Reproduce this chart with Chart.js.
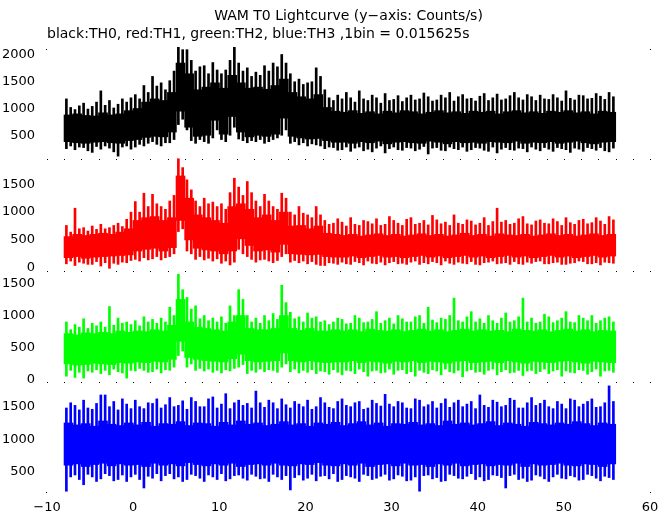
<!DOCTYPE html>
<html>
<head>
<meta charset="utf-8">
<title>WAM T0 Lightcurve</title>
<script src="https://cdn.jsdelivr.net/npm/chart.js@4.4.1/dist/chart.umd.min.js"></script>
<style>
  body { margin: 0; background: #fff; }
  canvas { position: absolute; left: 0; }
</style>
</head>
<body>
<canvas id="p0" width="672" height="168" style="top:0px"></canvas>
<canvas id="p1" width="672" height="122" style="top:158px"></canvas>
<canvas id="p2" width="672" height="121" style="top:270px"></canvas>
<canvas id="p3" width="672" height="134" style="top:381px"></canvas>
<script>
// lightcurves: core band per 1 s, spike extremes per 0.5 s, from t = -8 s to 56 s
const binStart = -8
const xTicks = [-10, 0, 10, 20, 30, 40, 50, 60]
const th0Ticks = [500, 1000, 1500, 2000]
const th1Ticks = [0, 500, 1000, 1500]
const th2Ticks = [0, 500, 1000, 1500]
const th3Ticks = [500, 1000, 1500]

// TH0 (black)
const th0Top = [880,900,870,860,920,880,900,960, 1000,1120,1180,1150,1300,1850,1650,1350, 1400,1480,1380,1620,1480,1380,1400,1360, 1430,1550,1300,1220,1180,1260,1020,950,
  930,960,910,940,900,950,920,960, 940,900,930,960,920,940,910,950, 930,950,900,940,960,920,940,910, 950,930,960,920,940,900,950,930]
const th0Bot = [380,360,350,370,380,360,350,400, 420,460,480,470,560,950,650,480, 500,780,520,850,560,470,500,480, 520,820,480,450,430,440,400,370,
  370,350,380,360,390,340,370,380, 360,350,390,370,340,380,360,370, 350,380,370,360,390,350,370,360, 380,350,370,390,360,340,370,380]
const th0Hi = [1180,1020, 980,1050, 1100,990, 1040,1120, 1330,1060, 1150,1010, 1080,1180, 1120,1200,
  1260,1180, 1430,1300, 1600,1420, 1480,1350, 1520,1700, 2150,2100, 2100,1900, 1700,1780,
  1800,1650, 1860,1720, 1650,1720, 1900,2150, 1850,1700, 1760,1600, 1680,1620, 1800,1700,
  1850,1780, 2010,1850, 1650,1500, 1550,1450, 1480,1500, 1760,1600, 1350,1200, 1150,1250,
  1180,1300, 1200,1120, 1330,1180, 1150,1250, 1200,1100, 1280,1150, 1170,1240, 1130,1200,
  1250,1160, 1180,1290, 1220,1140, 1160,1250, 1200,1300, 1140,1220, 1260,1180, 1190,1140,
  1230,1280, 1150,1200, 1270,1160, 1180,1240, 1300,1200, 1160,1260, 1220,1150, 1250,1180,
  1170,1260, 1200,1140, 1330,1190, 1160,1250, 1240,1180, 1190,1280, 1230,1170, 1300,1220]
const th0Lo = [250,300, 230,280, 270,210, 180,290, 240,300, 260,190, 110,280, 300,240,
  280,330, 300,350, 380,330, 300,360, 360,420, 700,800, 600,400, 350,420,
  380,350, 450,600, 420,380, 500,650, 430,400, 360,400, 380,420, 350,380,
  420,450, 500,600, 350,380, 320,360, 300,340, 320,300, 250,280, 270,220,
  230,280, 200,260, 280,210, 240,190, 260,300, 170,250, 280,230, 220,270,
  260,210, 240,290, 150,260, 270,220, 210,280, 250,230, 280,200, 230,270,
  260,220, 200,280, 170,240, 270,230, 220,260, 250,190, 280,240, 210,270,
  240,200, 270,250, 230,180, 260,240, 200,270, 250,220, 270,210, 190,260]

// TH1 (red)
const th1Top = [560,600,580,600,620,600,640,700, 850,900,920,850,900,1650,1250,950, 900,850,800,1100,1150,1050,900,950, 850,1000,750,760,700,750,620,600,
  580,600,570,590,610,580,600,570, 590,610,580,600,570,590,620,580, 600,570,610,590,580,600,570,590, 610,580,600,570,590,610,580,600]
const th1Bot = [180,200,170,190,200,210,220,230, 300,330,350,300,360,850,500,350, 320,300,250,300,520,400,300,320, 280,420,250,240,230,240,200,190,
  190,210,180,200,220,190,200,180, 200,220,190,210,180,200,220,190, 210,180,200,220,190,210,180,200, 220,190,210,180,200,220,190,210]
const th1Hi = [760,640, 1070,700, 720,660, 750,690, 780,700, 720,760, 800,740, 870,1000,
  1190,1000, 1340,1100, 1320,1150, 1100,1050, 1200,1300, 1960,1800, 1580,1400, 1200,1100,
  1250,1150, 1180,1100, 1150,1050, 1350,1610, 1450,1300, 1550,1350, 1200,1100, 1320,1200,
  1100,1050, 1340,1250, 1000,950, 1100,980, 950,900, 1100,950, 850,780, 800,880,
  820,750, 900,780, 760,850, 830,790, 880,760, 780,920, 850,800, 760,870,
  900,780, 800,850, 770,940, 860,790, 820,760, 950,800, 780,860, 840,770,
  800,900, 760,830, 1070,820, 850,780, 800,880, 920,790, 770,840, 860,800,
  790,880, 830,760, 900,810, 780,850, 870,790, 810,900, 840,780, 920,860]
const th1Lo = [70,120, 40,100, 80,60, 60,110, 30,90, -10,80, 60,100, 90,130,
  150,120, 180,140, 160,200, 140,180, 200,250, 650,700, 300,250, 150,200,
  140,170, 120,160, 80,120, 50,100, 330,250, 200,150, 100,140, 150,120,
  90,130, 200,250, 100,130, 90,120, 70,110, 60,40, 40,90, 80,60,
  100,70, 60,110, 90,50, 120,80, 70,100, 50,90, 110,70, 80,60,
  100,120, 60,90, 70,110, 90,50, 120,80, 60,100, 80,70, 110,60,
  50,90, 100,120, 70,80, 90,60, 110,70, 60,100, 80,110, 120,70,
  70,90, 100,60, 60,80, 90,120, 110,70, 70,90, 50,100, 90,80]

// TH2 (green)
const th2Top = [720,700,730,720,740,720,760,740, 760,750,780,760,850,1250,900,820, 800,780,760,900,1000,800,780,780, 800,1000,800,770,800,760,760,780,
  760,780,750,790,770,760,780,750, 770,790,760,780,750,770,790,760, 780,760,770,750,790,770,760,780, 750,770,790,760,780,750,770,760]
const th2Bot = [250,230,240,260,250,240,270,260, 280,270,290,280,320,600,350,320, 300,290,280,330,400,300,280,290, 300,420,300,280,300,280,270,280,
  280,300,270,290,280,260,290,280, 300,270,290,280,260,290,300,270, 280,290,270,300,280,260,290,280, 270,290,300,280,260,290,280,270]
const th2Hi = [900,780, 860,820, 950,800, 880,840, 900,820, 1140,850, 960,880, 900,860,
  920,840, 980,900, 940,880, 960,900, 1130,1000, 1640,1400, 1280,1100, 1150,950,
  1000,920, 960,900, 980,880, 1150,1000, 1400,1250, 1000,900, 960,880, 1000,920,
  1030,940, 1470,1200, 1050,950, 980,900, 1040,960, 980,900, 920,860, 900,960,
  940,870, 880,1000, 960,890, 900,940, 1060,880, 920,960, 870,1000, 950,900,
  900,980, 1000,880, 1130,930, 890,960, 940,1000, 1270,920, 900,980, 1060,900,
  950,880, 1000,920, 880,960, 1040,900, 920,980, 1270,900, 960,880, 900,1020,
  980,890, 920,960, 1060,900, 890,1000, 960,920, 1000,880, 920,960, 980,900]
const th2Lo = [60,150, 40,120, 30,140, 120,160, 100,150, 80,170, 130,110, 30,150,
  140,180, 150,120, 130,170, 110,160, 150,200, 380,450, 200,250, 150,180,
  140,170, 120,150, 110,160, 140,180, 200,240, 100,150, 120,170, 130,160,
  150,120, 200,250, 130,170, 110,150, 120,160, 100,140, 130,90, 160,120,
  80,150, 140,100, 170,130, 60,140, 150,110, 120,170, 90,150, 160,100,
  130,60, 150,120, 100,160, 140,80, 170,130, 110,150, 50,140, 160,120,
  130,90, 150,170, 80,130, 160,110, 120,150, 70,140, 150,100, 130,170,
  100,140, 160,60, 140,120, 110,160, 150,90, 130,170, 60,140, 150,120]

// TH3 (blue)
const th3Top = [1250,1220,1240,1200,1280,1230,1210,1250, 1220,1260,1200,1240,1230,1270,1210,1250, 1240,1200,1260,1220,1280,1230,1250,1210, 1230,1270,1220,1240,1200,1250,1230,1260,
  1210,1240,1270,1220,1250,1200,1240,1230, 1260,1220,1240,1210,1280,1230,1250,1220, 1240,1270,1210,1250,1230,1200,1260,1240, 1220,1250,1230,1270,1240,1210,1250,1230]
const th3Bot = [600,620,580,610,630,590,620,600, 610,580,630,600,620,590,640,610, 590,620,600,630,580,610,620,600, 630,600,590,620,610,640,600,590,
  620,600,630,580,610,620,590,630, 600,610,580,620,600,630,590,610, 620,590,610,600,630,580,620,600, 610,630,600,590,620,610,580,620]
const th3Hi = [1480,1560, 1520,1450, 1600,1480, 1460,1550, 1680,1680, 1500,1580, 1450,1620, 1540,1470,
  1600,1500, 1470,1560, 1550,1620, 1480,1530, 1640,1500, 1520,1590, 1460,1640, 1580,1500,
  1500,1620, 1650,1480, 1540,1700, 1470,1560, 1600,1520, 1550,1480, 1740,1560, 1490,1600,
  1560,1470, 1620,1530, 1480,1580, 1540,1500, 1600,1460, 1500,1640, 1560,1490, 1470,1580,
  1620,1520, 1500,1560, 1580,1460, 1480,1600, 1550,1510, 1690,1540, 1500,1580, 1560,1480,
  1470,1620, 1600,1500, 1530,1580, 1480,1550, 1620,1490, 1560,1600, 1500,1540, 1580,1470,
  1680,1520, 1490,1600, 1570,1500, 1520,1630, 1600,1480, 1480,1560, 1640,1520, 1550,1600,
  1500,1470, 1580,1540, 1470,1620, 1600,1500, 1540,1580, 1620,1490, 1500,1560, 1820,1580]
const th3Lo = [200,420, 450,380, 300,460, 420,350, 390,470, 440,360, 380,450, 350,420,
  460,380, 250,430, 400,470, 360,440, 470,390, 420,350, 380,460, 440,400,
  350,450, 420,380, 470,360, 390,440, 450,400, 370,460, 430,390, 400,350,
  460,420, 380,440, 220,410, 450,370, 400,460, 360,430, 440,390, 470,350,
  380,440, 420,400, 350,460, 440,380, 400,430, 460,370, 390,450, 430,360,
  370,420, 200,440, 450,390, 410,350, 360,460, 440,400, 390,430, 470,380,
  420,360, 380,450, 440,410, 250,440, 460,380, 400,350, 370,450, 430,390,
  350,420, 460,400, 390,440, 420,370, 380,460, 440,400, 360,430, 410,380]

const panels = [
  {id: 'p0', color: '#000000', top: th0Top, bot: th0Bot, hi: th0Hi, lo: th0Lo, ticks: th0Ticks, yMin: 75, yMax: 2150},
  {id: 'p1', color: '#ff0000', top: th1Top, bot: th1Bot, hi: th1Hi, lo: th1Lo, ticks: th1Ticks, yMin: -41, yMax: 1973},
  {id: 'p2', color: '#00ff00', top: th2Top, bot: th2Bot, hi: th2Hi, lo: th2Lo, ticks: th2Ticks, yMin: -15, yMax: 1706},
  {id: 'p3', color: '#0000ff', top: th3Top, bot: th3Bot, hi: th3Hi, lo: th3Lo, ticks: th3Ticks, yMin: 188, yMax: 1895}
]

Chart.defaults.font.family = '"DejaVu Sans", Verdana, sans-serif'
Chart.defaults.font.size = 13
Chart.defaults.color = '#000'

const minus = v => v < 0 ? '\u2212' + Math.abs(v) : String(v)

// little tick dots on the panel borders, like the original plot
const tickDots = {
  id: 'tickDots',
  afterDraw(chart, args, opts) {
    const {ctx, chartArea, scales} = chart
    ctx.save()
    ctx.fillStyle = '#000'
    if (opts.row) {
      for (let v = -10; v <= 60; v += 2) {
        ctx.fillRect(Math.round(scales.x.getPixelForValue(v)), Math.round(chartArea.top) + 1, 1, 1)
      }
    }
    if (opts.corners) {
      const y = opts.corners === 'top' ? Math.round(chartArea.top) + 2 : Math.round(chartArea.bottom)
      ctx.fillRect(Math.round(chartArea.left) - 1, y, 1, 1)
      ctx.fillRect(Math.round(chartArea.right), y, 1, 1)
    }
    ctx.restore()
  }
}

panels.forEach((p, n) => {
  const coreT = p.top.map((v, i) => binStart + i + 0.5)
  const spikeT = p.hi.map((v, i) => binStart + i * 0.5 + 0.25)
  const last = n === panels.length - 1

  new Chart(document.getElementById(p.id), {
    type: 'bar',
    data: {
      datasets: [
        {
          data: spikeT.map((t, i) => ({x: t, y: [p.lo[i], p.hi[i]]})),
          backgroundColor: p.color,
          barThickness: 2,
          grouped: false,
          borderWidth: 0
        },
        {
          data: coreT.map((t, i) => ({x: t, y: [p.bot[i], p.top[i]]})),
          backgroundColor: p.color,
          barThickness: 9,
          grouped: false,
          borderWidth: 0
        }
      ]
    },
    options: {
      responsive: false,
      animation: false,
      events: [],
      // the upper panels' canvases run 10px into the next one so the "0" labels are not cut
      layout: {padding: {left: 0, right: 22, top: 0, bottom: last ? 0 : 10}},
      scales: {
        x: {
          type: 'linear',
          min: -10,
          max: 60,
          offset: false,
          display: last,
          afterBuildTicks: s => { s.ticks = xTicks.map(v => ({value: v})) },
          ticks: {padding: 8, autoSkip: false, maxRotation: 0, callback: minus},
          grid: {display: false, drawTicks: false},
          border: {display: false},
          afterFit: s => {
            s.height = last ? 23 : 0
            s.paddingLeft = 0
            s.paddingRight = 0
          }
        },
        y: {
          min: p.yMin,
          max: p.yMax,
          afterBuildTicks: s => { s.ticks = p.ticks.map(v => ({value: v})) },
          ticks: {padding: 12, autoSkip: false, callback: v => String(v)},
          grid: {display: false, drawTicks: false},
          border: {display: false},
          afterFit: s => { s.width = 47; s.paddingTop = 0; s.paddingBottom = 0 }
        }
      },
      plugins: {
        legend: {display: false},
        tooltip: {enabled: false},
        title: {
          display: n === 0,
          text: 'WAM T0 Lightcurve (y\u2212axis: Counts/s)',
          fullSize: false,
          color: '#000',
          font: {size: 14, weight: 'normal'},
          padding: {top: 7.6, bottom: 1.4}
        },
        subtitle: {
          display: n === 0,
          text: 'black:TH0, red:TH1, green:TH2, blue:TH3 ,1bin = 0.015625s',
          fullSize: false,
          align: 'start',
          color: '#000',
          font: {size: 14, weight: 'normal'},
          padding: {top: 0, bottom: 4.4}
        },
        tickDots: {row: n > 0, corners: n === 0 ? 'top' : (last ? 'bottom' : null)}
      }
    },
    plugins: [tickDots]
  })
})
</script>
</body>
</html>
